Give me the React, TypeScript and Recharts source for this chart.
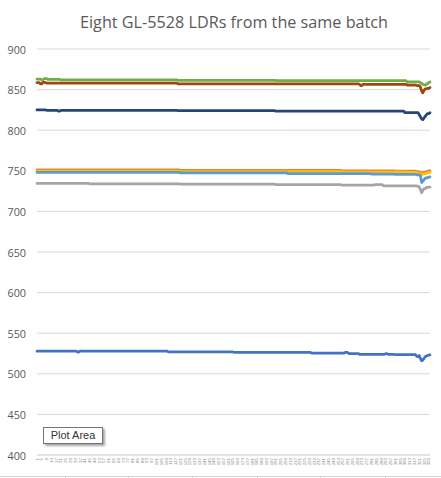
import React from "react";
import { LineChart, Line, XAxis, YAxis, CartesianGrid } from "recharts";

const SAMPLE_COUNT = 330;
const categories: string[] = Array.from({ length: SAMPLE_COUNT }, (_, i) => String(i + 1));
const yTicks = [400, 450, 500, 550, 600, 650, 700, 750, 800, 850, 900];

// Readings as steps: [first sample index, value]; the value holds until the next entry.
const ldr1Steps: [number, number][] = [
  [0, 527.8], [34, 526.8], [36, 528.2], [37, 527.8], [110, 527], [165, 526.3], [230, 525.5],
  [258, 526.3], [261, 525], [270, 524], [292, 524.8], [294, 523.8], [300, 523.5],
  [318, 521.5], [319, 521], [320, 522.5], [321, 519], [322, 516], [323, 517], [324, 519],
  [325, 521], [326, 522], [327, 522.5], [328, 523], [329, 523.3],
];
const ldr2Steps: [number, number][] = [
  [0, 751], [120, 750.5], [255, 750], [300, 749.5], [318, 749], [320, 748], [322, 747.5],
  [324, 748], [326, 749], [328, 750],
];
const ldr3Steps: [number, number][] = [
  [0, 734.5], [44, 734], [120, 733.5], [200, 733], [255, 732.5], [283, 733], [290, 731.5],
  [318, 731], [320, 730], [321, 727], [322, 723], [323, 726], [324, 728], [326, 729.5], [328, 730],
];
const ldr4Steps: [number, number][] = [
  [0, 749.5], [120, 749], [255, 748.5], [310, 748], [318, 747.5], [320, 746.5], [322, 745.5],
  [324, 746.5], [326, 747.5], [328, 748],
];
const ldr5Steps: [number, number][] = [
  [0, 748], [120, 747.5], [210, 746.5], [280, 746], [300, 745.5], [318, 745], [321, 744],
  [322, 735.5], [323, 737], [324, 739], [325, 741], [327, 742], [329, 742.5],
];
const ldr6Steps: [number, number][] = [
  [0, 863], [4, 862], [6, 863.5], [9, 862.5], [20, 862], [118, 861.5], [200, 861], [310, 859.5],
  [321, 858.5], [322, 857.5], [323, 856.5], [324, 856], [325, 855.5], [326, 856.5], [327, 857.5],
  [328, 858.5], [329, 859.5],
];
const ldr7Steps: [number, number][] = [
  [0, 825], [8, 824.5], [18, 823.5], [20, 824.5], [118, 824], [200, 823.5], [308, 821.5],
  [320, 819], [321, 816.5], [322, 814], [323, 813], [324, 815], [325, 817], [326, 819],
  [327, 820.5], [329, 821.5],
];
const ldr8Steps: [number, number][] = [
  [0, 858.5], [3, 857], [5, 859], [8, 858], [118, 857], [270, 856.5], [271, 855], [273, 856.5],
  [310, 855.5], [318, 855], [321, 853], [322, 848], [323, 846], [324, 849], [325, 851],
  [327, 851.5], [329, 852.5],
];

const seriesKeys = ["ldr1", "ldr2", "ldr3", "ldr4", "ldr5", "ldr6", "ldr7", "ldr8"];
const seriesSteps = [ldr1Steps, ldr2Steps, ldr3Steps, ldr4Steps, ldr5Steps, ldr6Steps, ldr7Steps, ldr8Steps];
const seriesColors = ["#4472C4", "#ED7D31", "#A5A5A5", "#FFC000", "#5B9BD5", "#70AD47", "#264478", "#9E480E"];

function expandSteps(steps: [number, number][]): number[] {
  const out: number[] = [];
  let k = 0;
  for (let i = 0; i < SAMPLE_COUNT; i++) {
    while (k + 1 < steps.length && steps[k + 1][0] <= i) k++;
    out.push(steps[k][1]);
  }
  return out;
}

const expanded = seriesSteps.map(expandSteps);
const data = categories.map((c, i) => {
  const row: Record<string, number | string> = { label: c };
  seriesKeys.forEach((key, s) => {
    row[key] = expanded[s][i];
  });
  return row;
});

const XTick = (props: any) => {
  const { x, payload } = props;
  return (
    <text
      x={x}
      y={458}
      transform={`rotate(-90 ${x} ${458})`}
      textAnchor="end"
      dominantBaseline="central"
      fontSize={4.4}
      fontFamily="Liberation Sans"
      fill="#8a8a8a"
    >
      {payload.value}
    </text>
  );
};

const YTick = (props: any) => {
  const { y, payload } = props;
  return (
    <text
      x={26}
      y={y}
      textAnchor="end"
      dominantBaseline="central"
      fontSize={10.8}
      fontFamily="Open Sans"
      fill="#595959"
    >
      {payload.value}
    </text>
  );
};

export default function App() {
  return (
    <div style={{ position: "absolute", left: 0, top: 0, width: 441, height: 478, background: "#fff", overflow: "hidden" }}>
      <svg width={441} height={478} style={{ position: "absolute", left: 0, top: 0 }}>
        <text
          x={234}
          y={28}
          textAnchor="middle"
          fontSize={15.5}
          fontFamily="Open Sans"
          fill="#595959"
          textLength={308}
          lengthAdjust="spacingAndGlyphs"
        >
          Eight GL-5528 LDRs from the same batch
        </text>
        <line x1={0} y1={476.5} x2={441} y2={476.5} stroke="#d4d4d4" strokeWidth={1} />
        {[65, 128, 192, 257, 320, 385].map((x) => (
          <line key={x} x1={x + 0.5} y1={476} x2={x + 0.5} y2={478} stroke="#d4d4d4" strokeWidth={1} />
        ))}
      </svg>
      <div style={{ position: "absolute", left: 0, top: 0 }}>
        <LineChart width={441} height={478} data={data} margin={{ top: 49, right: 11, bottom: 2, left: 7 }}>
          <CartesianGrid vertical={false} stroke="#d9d9d9" strokeWidth={1} />
          <XAxis
            dataKey="label"
            interval={3}
            tickLine={false}
            axisLine={{ stroke: "#d9d9d9" }}
            tick={<XTick />}
            height={21}
          />
          <YAxis
            domain={[400, 900]}
            ticks={yTicks}
            width={30}
            axisLine={false}
            tickLine={false}
            tick={<YTick />}
            interval={0}
          />
          {seriesKeys.map((key, s) => (
            <Line
              key={key}
              dataKey={key}
              type="linear"
              stroke={seriesColors[s]}
              strokeWidth={2.75}
              strokeLinejoin="round"
              strokeLinecap="round"
              dot={false}
              activeDot={false}
              isAnimationActive={false}
            />
          ))}
        </LineChart>
      </div>
      <div
        style={{
          position: "absolute",
          left: 43,
          top: 427,
          width: 60,
          height: 17,
          boxSizing: "border-box",
          border: "1px solid #767676",
          background: "#fff",
          boxShadow: "2px 2px 2px rgba(0,0,0,0.35)",
          fontFamily: "Liberation Sans",
          fontSize: 11,
          color: "#333",
          lineHeight: "15px",
          textAlign: "center",
        }}
      >
        Plot Area
      </div>
    </div>
  );
}
